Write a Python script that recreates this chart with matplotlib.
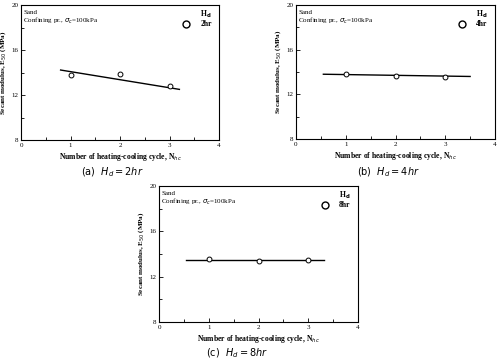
import matplotlib
matplotlib.use("Agg")
import matplotlib.pyplot as plt
from matplotlib.ticker import MultipleLocator

plt.rcParams['font.family'] = ['Liberation Serif', 'DejaVu Serif']

cycles = [1, 2, 3]
# secant modulus (MPa) for each heating duration
E_2hr = [13.8, 13.9, 12.8]
E_4hr = [13.82, 13.67, 13.55]
E_8hr = [13.57, 13.36, 13.45]
# trend line end points (x, y)
fit_2hr_x = [0.8, 3.2]
fit_2hr_y = [14.22, 12.5]
fit_4hr_x = [0.55, 3.5]
fit_4hr_y = [13.8, 13.6]
fit_8hr_x = [0.54, 3.32]
fit_8hr_y = [13.5, 13.5]
durations = ['2hr', '4hr', '8hr']
captions = ['(a)', '(b)', '(c)']

fig = plt.figure(figsize=(5, 3.62), dpi=100)
W, H = 500, 362
# axes boxes in pixels: left, top, right, bottom
boxes = [(21, 5, 219, 140), (296, 5, 495, 139), (159, 186, 358, 322)]
caption_pos = [(112, 172), (388, 172), (237, 353)]

data = [(E_2hr, fit_2hr_x, fit_2hr_y), (E_4hr, fit_4hr_x, fit_4hr_y),
        (E_8hr, fit_8hr_x, fit_8hr_y)]

for i in range(3):
    l, t, r, b = boxes[i]
    ax = fig.add_axes([l / W, 1 - b / H, (r - l) / W, (b - t) / H])
    E, fx, fy = data[i]
    ax.plot(fx, fy, color='black', lw=1.0)
    ax.plot(cycles, E, 'o', mfc='white', mec='black', ms=3.5, mew=0.7)
    ax.plot([3.33], [18.3], 'o', mfc='white', mec='black', ms=5, mew=1.0)
    ax.text(3.62, 19.15, 'H$_\\mathbf{d}$', fontsize=5.5, va='center', fontweight='bold')
    ax.text(3.62, 18.3, durations[i], fontsize=5.5, va='center', fontweight='bold')
    ax.text(0.05, 19.3, 'Sand', fontsize=5, va='center')
    ax.text(0.05, 18.6, 'Confining pr., $\\sigma_c$=100kPa', fontsize=5, va='center')
    ax.set_xlim(0, 4)
    ax.set_ylim(8, 20)
    ax.xaxis.set_major_locator(MultipleLocator(1))
    ax.xaxis.set_minor_locator(MultipleLocator(0.5))
    ax.yaxis.set_major_locator(MultipleLocator(4))
    ax.yaxis.set_minor_locator(MultipleLocator(2))
    ax.tick_params(which='both', direction='in', labelsize=5, pad=2)
    ax.tick_params(which='major', length=3, width=0.6)
    ax.tick_params(which='minor', length=2, width=0.6)
    for s in ax.spines.values():
        s.set_linewidth(0.8)
    ax.set_xlabel('Number of heating-cooling cycle, N$_{hc}$', fontsize=5.5,
                  fontweight='bold', labelpad=2)
    ax.set_ylabel('Secant modulus, E$_{50}$ (MPa)', fontsize=5,
                  fontweight='bold', labelpad=2)
    cx, cy = caption_pos[i]
    fig.text(cx / W, 1 - cy / H,
             captions[i] + '  $H_d = ' + durations[i][0] + 'hr$',
             fontsize=7, ha='center', va='center', family='DejaVu Sans')

fig.savefig('out.png', dpi=100)
